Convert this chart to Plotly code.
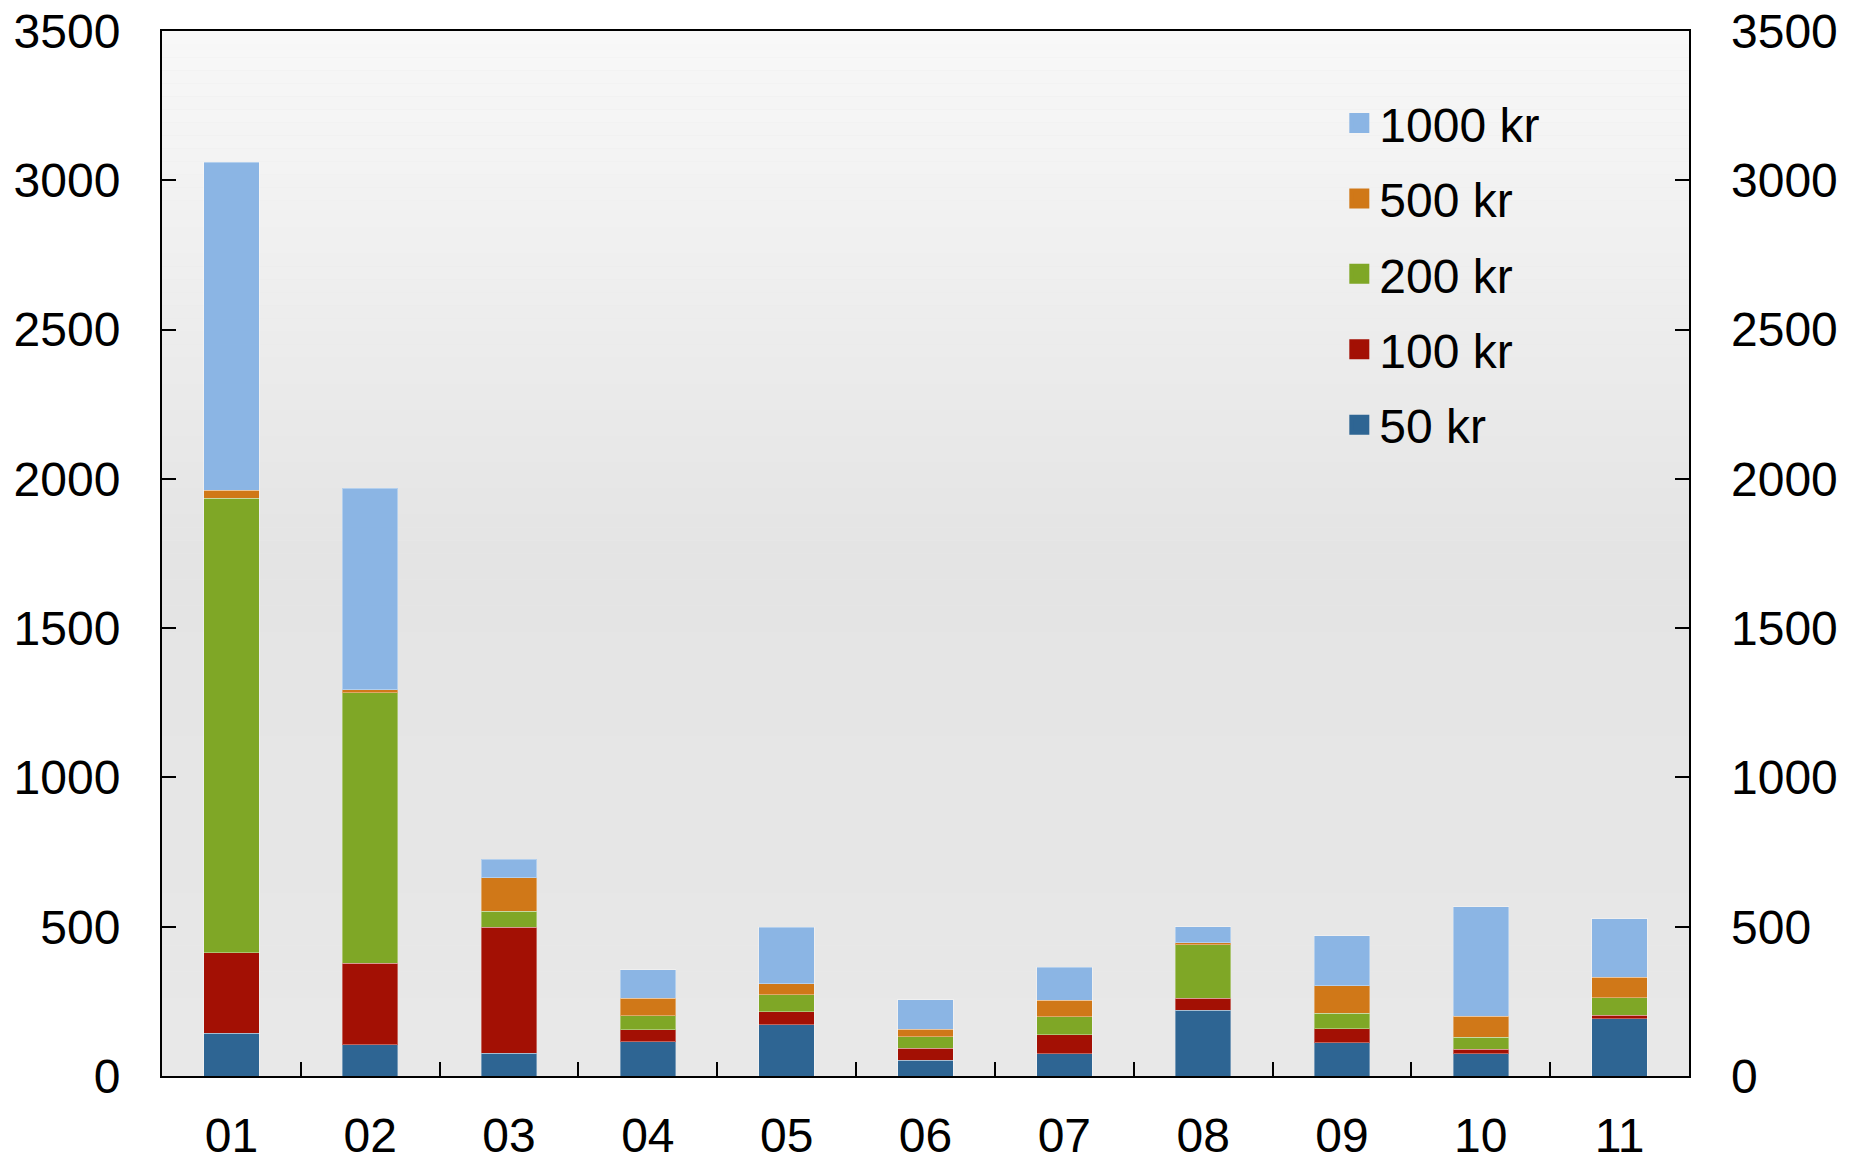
import plotly.graph_objects as go

categories = ["01", "02", "03", "04", "05", "06", "07", "08", "09", "10", "11"]
kr50 = [143, 104, 76, 115, 172, 53, 75, 221, 112, 74, 192]
kr100 = [269, 274, 423, 40, 44, 40, 63, 39, 47, 16, 11]
kr200 = [1523, 905, 53, 46, 56, 38, 60, 180, 52, 39, 59]
kr500 = [27, 11, 112, 59, 37, 26, 56, 7, 91, 71, 68]
kr1000 = [1099, 675, 62, 96, 190, 99, 111, 53, 167, 367, 197]

series = [
    ("50 kr", kr50, "#2e6593"),
    ("100 kr", kr100, "#a31004"),
    ("200 kr", kr200, "#7fa726"),
    ("500 kr", kr500, "#d07818"),
    ("1000 kr", kr1000, "#8bb5e4"),
]

FONT = "Liberation Sans, Arial, sans-serif"

fig = go.Figure()
for i, (name, vals, col) in enumerate(series):
    fig.add_trace(go.Bar(
        x=categories, y=vals, name=name, legendgroup=name, showlegend=False,
        marker=dict(color=col, line=dict(color="rgba(255,255,255,0.35)", width=1)),
        width=0.4,
    ))
    # legend proxy with a larger square symbol
    fig.add_trace(go.Scatter(
        x=[None], y=[None], mode="markers", name=name, legendgroup=name,
        legendrank=1000 - i, hoverinfo="skip",
        marker=dict(symbol="square", size=16, color=col, line=dict(color=col, width=4)),
    ))

# invisible trace to anchor the right axis
fig.add_trace(go.Scatter(x=categories, y=[None] * len(categories), yaxis="y2",
                         showlegend=False, hoverinfo="skip"))

# background gradient (light at top, grey lower down)
shapes = []
n = 40
top_c = (248, 248, 248)
mid_c = (228, 228, 228)
for i in range(n):
    y0 = 0.5 + 0.5 * i / n
    y1 = 0.5 + 0.5 * (i + 1) / n
    t = (i + 0.5) / n
    c = tuple(int(round(mid_c[k] + (top_c[k] - mid_c[k]) * t)) for k in range(3))
    shapes.append(dict(type="rect", xref="paper", yref="paper", x0=0, x1=1, y0=y0, y1=y1,
                       fillcolor="rgb(%d,%d,%d)" % c, line=dict(width=0), layer="below"))
n2 = 20
bot_c = (232, 232, 232)
for i in range(n2):
    y0 = 0.5 * i / n2
    y1 = 0.5 * (i + 1) / n2
    t = (i + 0.5) / n2
    c = tuple(int(round(bot_c[k] + (mid_c[k] - bot_c[k]) * t)) for k in range(3))
    shapes.append(dict(type="rect", xref="paper", yref="paper", x0=0, x1=1, y0=y0, y1=y1,
                       fillcolor="rgb(%d,%d,%d)" % c, line=dict(width=0), layer="below"))

fig.update_layout(
    width=1865, height=1167,
    barmode="stack",
    paper_bgcolor="white",
    plot_bgcolor="#e8e8e8",
    margin=dict(l=162, r=176, t=31, b=91, autoexpand=False),
    font=dict(family=FONT, size=48, color="black"),
    shapes=shapes,
    showlegend=True,
    legend=dict(
        x=0.771, y=0.948, xanchor="left", yanchor="top",
        bgcolor="rgba(0,0,0,0)", traceorder="grouped", tracegroupgap=10,
        itemsizing="trace",
        font=dict(family=FONT, size=48, color="black"),
    ),
    xaxis=dict(
        type="category", range=[-0.5, 10.5], showgrid=False, showline=True,
        linecolor="black", linewidth=2,
        mirror=True, ticks="inside", ticklen=14, tickwidth=2, tickcolor="black",
        tickson="boundaries", ticklabelstandoff=16, automargin=False,
        tickfont=dict(family=FONT, size=48, color="black"),
    ),
    yaxis=dict(
        range=[0, 3500], dtick=500, showgrid=False, showline=True, linecolor="black",
        linewidth=2, mirror=True, ticks="inside", ticklen=14, tickwidth=2,
        tickcolor="black", zeroline=False, ticklabelstandoff=30, automargin=False,
        ticklabeloverflow="allow",
        tickfont=dict(family=FONT, size=48, color="black"),
    ),
    yaxis2=dict(
        range=[0, 3500], dtick=500, overlaying="y", side="right", showgrid=False,
        showline=False, ticks="inside", ticklen=14, tickwidth=2, tickcolor="black",
        zeroline=False, ticklabelstandoff=41, automargin=False,
        ticklabeloverflow="allow",
        tickfont=dict(family=FONT, size=48, color="black"),
    ),
)

fig.write_html(
    "out.html",
    config={"displayModeBar": False},
    post_script="document.body.style.margin='0';document.body.style.overflow='hidden';",
)
